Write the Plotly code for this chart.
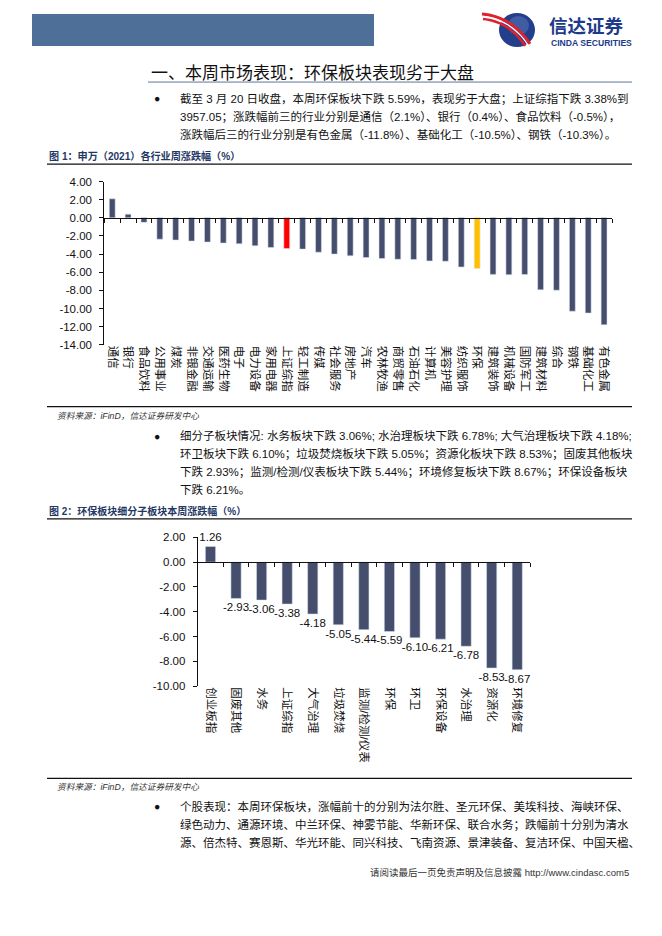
import plotly.graph_objects as go

# page body has an 8px margin: the figure fills the rest of the 662x936 window
PAGE_W, PAGE_H, OFF = 662, 936, 8
W, H = PAGE_W - 2 * OFF, PAGE_H - 2 * OFF
# measured vertical placement of the rendered page (page_y = Y0 + YS * intended_y)
Y0, YS = 7.2, 0.985

# ---------------- data ----------------
industries = ["通信", "银行", "食品饮料", "公用事业", "煤炭", "非银金融", "交通运输", "医药生物",
              "电子", "电力设备", "家用电器", "上证综指", "轻工制造", "传媒", "社会服务", "房地产",
              "汽车", "农林牧渔", "商贸零售", "石油石化", "计算机", "美容护理", "纺织服饰", "环保",
              "建筑装饰", "机械设备", "国防军工", "建筑材料", "综合", "钢铁", "基础化工", "有色金属"]
industry_returns = [2.10, 0.40, -0.50, -2.35, -2.45, -2.56, -2.67, -2.78,
                    -2.86, -3.08, -3.27, -3.38, -3.45, -3.79, -4.00, -4.19,
                    -4.38, -4.49, -4.57, -4.60, -4.75, -4.79, -5.42, -5.59,
                    -6.24, -6.27, -6.25, -7.94, -7.98, -10.30, -10.50, -11.80]
industry_colors = ["#454F6D"] * len(industries)
industry_colors[industries.index("上证综指")] = "#FF0000"
industry_colors[industries.index("环保")] = "#FFC000"

y1_tickvals = [4, 2, 0, -2, -4, -6, -8, -10, -12, -14]
y1_ticktext = ["4.00", "2.00", "0.00", "-2.00", "-4.00", "-6.00", "-8.00", "-10.00", "-12.00", "-14.00"]

sectors = ["创业板指", "固废其他", "水务", "上证综指", "大气治理", "垃圾焚烧", "监测/检测/仪表",
           "环保", "环卫", "环保设备", "水治理", "资源化", "环境修复"]
sector_returns = [1.26, -2.93, -3.06, -3.38, -4.18, -5.05, -5.44, -5.59, -6.10, -6.21, -6.78, -8.53, -8.67]

y2_tickvals = [2, 0, -2, -4, -6, -8, -10]
y2_ticktext = ["2.00", "0.00", "-2.00", "-4.00", "-6.00", "-8.00", "-10.00"]

# ---------------- helpers (page pixels -> paper fractions) ----------------
def px(x):
    return (x - OFF) / W

def py(y):
    yi = (y - Y0) / YS
    return 1 - (yi - OFF) / H

FONT = "Liberation Sans, Arial, Noto Sans CJK SC, sans-serif"
CJK = "Liberation Sans, Noto Sans CJK SC, sans-serif"

fig = go.Figure()

# chart 1 domains
c1x = [px(104.3), px(612)]
c1y = [py(345.2), py(182.3)]
r1 = [-14, 4]
zero1 = c1y[0] + (0 - r1[0]) / (r1[1] - r1[0]) * (c1y[1] - c1y[0])

# chart 2 domains
c2x = [px(197.7), px(530)]
c2y = [py(686), py(537.3)]
r2 = [-10, 2]
zero2 = c2y[0] + (0 - r2[0]) / (r2[1] - r2[0]) * (c2y[1] - c2y[0])

# chart 1: visible bars on zero-line axis x2, invisible on label axis x
fig.add_trace(go.Bar(x=industries, y=industry_returns, marker_color=industry_colors,
                     width=0.37, xaxis="x2", yaxis="y", hoverinfo="skip", showlegend=False))
fig.add_trace(go.Bar(x=industries, y=industry_returns, marker_color="rgba(0,0,0,0)",
                     width=0.37, xaxis="x", yaxis="y", hoverinfo="skip", showlegend=False))

# chart 2
fig.add_trace(go.Bar(x=sectors, y=sector_returns, marker_color="#454F6D", width=0.4,
                     text=[f"{v:.2f}" for v in sector_returns], textposition="outside",
                     textfont=dict(family=FONT, size=11.5, color="#111"),
                     constraintext="none", cliponaxis=False,
                     xaxis="x4", yaxis="y2", hoverinfo="skip", showlegend=False))
fig.add_trace(go.Bar(x=sectors, y=sector_returns, marker_color="rgba(0,0,0,0)", width=0.4,
                     xaxis="x3", yaxis="y2", hoverinfo="skip", showlegend=False))

label_axis = dict(type="category", showline=False, ticks="", tickangle=90, showgrid=False,
                  zeroline=False, tickfont=dict(family=CJK, size=11.5, color="#111"),
                  fixedrange=True)
zero_axis = dict(type="category", showline=True, linecolor="#111", linewidth=1,
                 ticks="outside", tickson="boundaries", ticklen=4, tickcolor="#111",
                 showticklabels=False, showgrid=False, zeroline=False, anchor="free")
val_axis = dict(showline=True, linecolor="#111", linewidth=1, ticks="outside", ticklen=4,
                tickcolor="#111", showgrid=False, zeroline=False,
                tickfont=dict(family=FONT, size=11.5, color="#111"), ticklabelstandoff=5)

fig.update_layout(
    width=W, height=H, autosize=False,
    margin=dict(l=0, r=0, t=0, b=0),
    paper_bgcolor="white", plot_bgcolor="rgba(0,0,0,0)",
    barmode="overlay",
    xaxis=dict(label_axis, domain=c1x, anchor="y", categoryorder="array", categoryarray=industries),
    xaxis2=dict(zero_axis, domain=c1x, overlaying="x", position=zero1,
                categoryorder="array", categoryarray=industries),
    yaxis=dict(val_axis, domain=c1y, anchor="x", range=r1, tickvals=y1_tickvals, ticktext=y1_ticktext),
    xaxis3=dict(label_axis, domain=c2x, anchor="y2", categoryorder="array", categoryarray=sectors),
    xaxis4=dict(zero_axis, domain=c2x, overlaying="x3", position=zero2,
                categoryorder="array", categoryarray=sectors),
    yaxis2=dict(val_axis, domain=c2y, anchor="x3", range=r2, tickvals=y2_tickvals, ticktext=y2_ticktext),
)

shapes = []
annotations = []

def text(x, y, s, size=11.5, color="#111", anchor="left", family=CJK, bold=False, italic=False):
    if bold:
        s = "<b>" + s + "</b>"
    if italic:
        s = "<i>" + s + "</i>"
    annotations.append(dict(x=px(x), y=py(y), xref="paper", yref="paper", text=s, showarrow=False,
                            xanchor=anchor, yanchor="middle",
                            font=dict(family=family, size=size, color=color)))

def hline(x0, x1, y, color="#111", width=1):
    shapes.append(dict(type="line", xref="paper", yref="paper", x0=px(x0), x1=px(x1),
                       y0=py(y), y1=py(y), line=dict(color=color, width=width)))

def path(points, color, width=0, fill=None, close=False):
    d = "M " + " L ".join(f"{px(a):.5f},{py(b):.5f}" for a, b in points)
    if close:
        d += " Z"
    shapes.append(dict(type="path", xref="paper", yref="paper", path=d,
                       line=dict(color=color, width=width), fillcolor=fill or "rgba(0,0,0,0)"))

def curve(x0, y0, cx, cy, x1, y1, n=16):
    pts = []
    for i in range(n + 1):
        t = i / n
        pts.append(((1 - t) ** 2 * x0 + 2 * (1 - t) * t * cx + t ** 2 * x1,
                    (1 - t) ** 2 * y0 + 2 * (1 - t) * t * cy + t ** 2 * y1))
    return pts

# ---------------- header ----------------
shapes.append(dict(type="rect", xref="paper", yref="paper", x0=px(32), x1=px(374), y0=py(47), y1=py(15),
                   fillcolor="#4E6F97", line=dict(width=0)))
# logo sphere
shapes.append(dict(type="circle", xref="paper", yref="paper", x0=px(499), x1=px(535), y0=py(48), y1=py(14),
                   fillcolor="#233E8B", line=dict(width=0)))
shapes.append(dict(type="circle", xref="paper", yref="paper", x0=px(508), x1=px(529), y0=py(36), y1=py(17),
                   fillcolor="rgba(120,150,210,0.35)", line=dict(width=0)))
# logo red swoosh (approximate curves)
path(curve(482, 15, 512, 18, 530, 45), "#E0202A", width=3)
path(curve(483, 20, 510, 23, 525, 47), "#E0202A", width=2.5)
path(curve(482.5, 17.5, 511, 20.5, 528, 46), "white", width=1.2)
text(547, 26.5, "信达证券", size=18.5, color="#1E3A8A", bold=True, family="Noto Sans CJK SC, sans-serif")
text(549, 44, "CINDA SECURITIES", size=8.6, color="#1E3A8A", bold=True, family=FONT)

# ---------------- title ----------------
text(149, 72, "一、本周市场表现：环保板块表现劣于大盘", size=17, color="#111",
     family="Noto Sans CJK SC, sans-serif")
hline(148, 632, 83, color="#5F7592", width=1)

BODY = 11.5
BUL = 10.5
# bullet 1
text(152, 99, "●", size=BUL, family=FONT)
text(178, 99, "截至 3 月 20 日收盘，本周环保板块下跌 5.59%，表现劣于大盘；上证综指下跌 3.38%到", size=BODY)
text(178, 117, "3957.05；涨跌幅前三的行业分别是通信（2.1%）、银行（0.4%）、食品饮料（-0.5%），", size=BODY)
text(178, 135, "涨跌幅后三的行业分别是有色金属（-11.8%）、基础化工（-10.5%）、钢铁（-10.3%）。", size=BODY)

# figure 1 caption
text(47, 157, "图 1：申万（2021）各行业周涨跌幅（%）", size=10.1, color="#1F3864", bold=True)
hline(47, 632, 165, width=1.3)
hline(47, 632, 407, width=1.3)
text(55, 416, "资料来源：iFinD，信达证券研发中心", size=8.7, color="#333", italic=True)

# bullet 2
text(152, 436, "●", size=BUL, family=FONT)
text(178, 436, "细分子板块情况: 水务板块下跌 3.06%; 水治理板块下跌 6.78%; 大气治理板块下跌 4.18%;", size=BODY)
text(178, 454, "环卫板块下跌 6.10%；垃圾焚烧板块下跌 5.05%；资源化板块下跌 8.53%；固废其他板块", size=BODY)
text(178, 472, "下跌 2.93%；监测/检测/仪表板块下跌 5.44%；环境修复板块下跌 8.67%；环保设备板块", size=BODY)
text(178, 490, "下跌 6.21%。", size=BODY)

# figure 2 caption
text(47, 511, "图 2：环保板块细分子板块本周涨跌幅（%）", size=10, color="#1F3864", bold=True)
hline(47, 632, 519, width=1.3)
hline(47, 632, 778, width=1.3)
text(55, 787, "资料来源：iFinD，信达证券研发中心", size=8.7, color="#333", italic=True)

# bullet 3
text(152, 806, "●", size=BUL, family=FONT)
text(178, 806, "个股表现：本周环保板块，涨幅前十的分别为法尔胜、圣元环保、美埃科技、海峡环保、", size=BODY)
text(178, 824, "绿色动力、通源环境、中兰环保、神雾节能、华新环保、联合水务；跌幅前十分别为清水", size=BODY)
text(178, 842, "源、倍杰特、赛恩斯、华光环能、同兴科技、飞南资源、景津装备、复洁环保、中国天楹、", size=BODY)

# footer
text(631, 872, "请阅读最后一页免责声明及信息披露 http://www.cindasc.com5", size=9.5, color="#333", anchor="right")

fig.update_layout(shapes=shapes, annotations=annotations)
fig.write_html("out.html")
